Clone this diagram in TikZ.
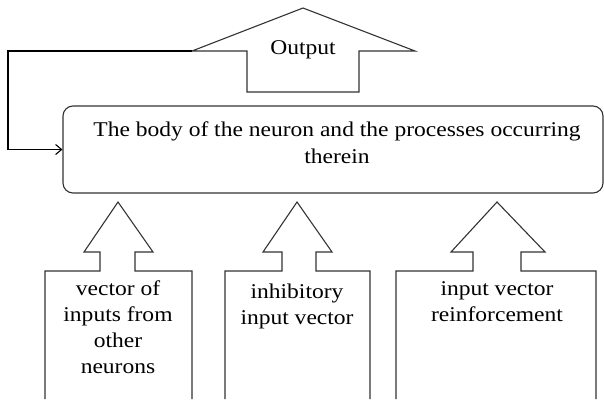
\documentclass[tikz,border=0pt]{standalone}
\usepackage{fontspec}
\setmainfont{Liberation Serif}[FakeStretch=1.12]
\usetikzlibrary{arrows.meta}
\begin{document}
\begin{tikzpicture}[x=1pt,y=-1pt,
  outline/.style={draw=black!80, line width=1.1pt, line join=miter},
  lbl/.style={font=\fontsize{21}{26}\selectfont, align=center, inner sep=0pt},
  fbline/.style={draw=black, line width=1.1pt, -{Straight Barb[length=6pt,width=10pt]}}]
\useasboundingbox (0,0) rectangle (604,399);
% body box
\node[outline, rounded corners=10pt, minimum width=540pt, minimum height=87pt, inner sep=0pt] (body) at (333,149.5) {};
\node[lbl, font=\fontsize{21}{27}\selectfont] (bodytext) at (337,143) {The body of the neuron and the processes occurring\\therein};
% output arrow
\draw[outline] (247,92) -- (247,51) -- (192,51) -- (303,8) -- (415,51) -- (359,51) -- (359,92) -- cycle;
\node[lbl] (out) at (303,50) {Output};
\coordinate (fb) at (192,51);
\draw[fbline] (fb) -- (8,51) |- (body.west);
% input arrows
\draw[outline] (45,399) -- (45,271) -- (100,271) -- (100,252) -- (84,252) -- (118,202) -- (153,252) -- (135,252) -- (135,271) -- (192,271) -- (192,399);
\node[lbl] (in1) at (118,327) {vector of\\inputs from\\other\\neurons};
\draw[outline] (225,399) -- (225,271) -- (282,271) -- (282,252) -- (263,252) -- (297,202) -- (332,252) -- (316,252) -- (316,271) -- (370,271) -- (370,399);
\node[lbl] (in2) at (297,306) {inhibitory\\input vector};
\draw[outline] (396,399) -- (396,271) -- (473,271) -- (473,252) -- (451,252) -- (497,202) -- (545,252) -- (521,252) -- (521,271) -- (596,271) -- (596,399);
\node[lbl] (in3) at (497,302) {input vector\\reinforcement};
\end{tikzpicture}
\end{document}
